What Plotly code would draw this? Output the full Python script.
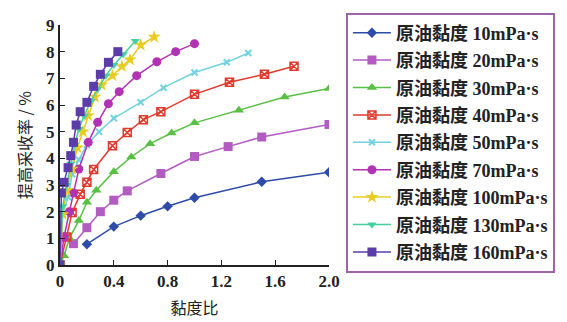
import plotly.graph_objects as go

names = ["原油黏度 10mPa·s", "原油黏度 20mPa·s", "原油黏度 30mPa·s", "原油黏度 40mPa·s",
         "原油黏度 50mPa·s", "原油黏度 70mPa·s", "原油黏度 100mPa·s", "原油黏度 130mPa·s",
         "原油黏度 160mPa·s"]

x10 = [0.2, 0.4, 0.6, 0.8, 1.0, 1.5, 2.0]
y10 = [0.78, 1.44, 1.85, 2.2, 2.52, 3.12, 3.48]
x20 = [0.1, 0.2, 0.3, 0.4, 0.5, 0.75, 1.0, 1.25, 1.5, 2.0]
y20 = [0.8, 1.4, 2.0, 2.43, 2.78, 3.43, 4.07, 4.44, 4.8, 5.27]
x30 = [0, 0.03, 0.07, 0.14, 0.2, 0.27, 0.4, 0.53, 0.67, 0.83, 1.0, 1.33, 1.67, 2.0]
y30 = [0, 0.35, 1.0, 1.67, 2.35, 2.8, 3.5, 4.05, 4.55, 4.95, 5.33, 5.8, 6.3, 6.62]
x40 = [0, 0.05, 0.09, 0.15, 0.2, 0.25, 0.39, 0.5, 0.62, 0.75, 1.0, 1.26, 1.52, 1.74]
y40 = [0, 1.05, 1.97, 2.65, 3.1, 3.58, 4.47, 4.97, 5.45, 5.75, 6.4, 6.85, 7.15, 7.45]
x50 = [0, 0.02, 0.06, 0.09, 0.14, 0.2, 0.29, 0.4, 0.6, 0.77, 1.0, 1.24, 1.4]
y50 = [0, 1.9, 2.55, 3.4, 3.95, 4.5, 5.0, 5.5, 6.1, 6.65, 7.22, 7.6, 7.95]
x70 = [0, 0.03, 0.07, 0.1, 0.14, 0.21, 0.28, 0.36, 0.44, 0.57, 0.72, 0.86, 1.0]
y70 = [0, 1.05, 2.0, 2.7, 3.6, 4.6, 5.35, 6.05, 6.5, 7.1, 7.62, 8.0, 8.3]
x100 = [0, 0.02, 0.05, 0.09, 0.13, 0.17, 0.21, 0.26, 0.31, 0.39, 0.46, 0.52, 0.6, 0.7]
y100 = [0, 1.9, 2.8, 3.6, 4.4, 5.0, 5.6, 6.3, 6.75, 7.1, 7.45, 7.7, 8.25, 8.55]
x130 = [0, 0.02, 0.05, 0.08, 0.11, 0.14, 0.18, 0.23, 0.28, 0.34, 0.4, 0.47, 0.56]
y130 = [0, 2.2, 3.0, 3.8, 4.5, 5.1, 5.6, 6.15, 6.6, 7.1, 7.5, 7.9, 8.4]
x160 = [0, 0.01, 0.03, 0.06, 0.08, 0.1, 0.12, 0.15, 0.2, 0.25, 0.3, 0.36, 0.43]
y160 = [0, 2.7, 3.1, 3.65, 4.1, 4.6, 5.25, 5.75, 6.1, 6.7, 7.15, 7.6, 8.0]

xs = [x10, x20, x30, x40, x50, x70, x100, x130, x160]
ys = [y10, y20, y30, y40, y50, y70, y100, y130, y160]
colors = ["#2d4ba8", "#b25cc2", "#58c043", "#e03a2c", "#72d2de", "#b232b4", "#e8cc22", "#46d09e", "#5b3ca8"]
symbols = ["diamond", "square", "triangle-up", "square-x-open", "x-thin-open", "circle", "star", "triangle-down", "square"]
sizes = [8, 9, 9, 8, 6, 9, 10, 8, 9]

fig = go.Figure()
for i in range(9):
    mk = dict(symbol=symbols[i], size=sizes[i], color=colors[i])
    if symbols[i] == "square-x-open":
        mk["line"] = dict(color=colors[i], width=1.5)
    if symbols[i] == "x-thin-open":
        mk["line"] = dict(color=colors[i], width=2)
    fig.add_trace(go.Scatter(
        x=xs[i], y=ys[i], name=names[i], mode="lines+markers",
        line=dict(color=colors[i], width=1.5), marker=mk,
        legendgroup=f"g{i}"))

font_num = dict(family="Liberation Serif", size=17, color="#222", weight="bold")
fig.update_layout(
    width=567, height=322,
    margin=dict(l=60, r=237, t=22, b=57),
    plot_bgcolor="white", paper_bgcolor="white",
    showlegend=True,
    legend=dict(x=1.063, y=1.052, xanchor="left", yanchor="top",
                bordercolor="#a062a8", borderwidth=2, maxheight=1.0,
                font=dict(family="Liberation Serif, Noto Sans CJK SC", size=18, color="#222", weight="bold"),
                tracegroupgap=1, itemwidth=38),
    xaxis=dict(range=[0, 2.0], tickvals=[0, 0.4, 0.8, 1.2, 1.6, 2.0],
               ticktext=["0", "0.4", "0.8", "1.2", "1.6", "2.0"], automargin=False,
               ticks="inside", ticklen=5, tickcolor="#222", showline=True, linecolor="#222", linewidth=2,
               showgrid=False, zeroline=False, tickfont=font_num,
               title=dict(text="黏度比", font=dict(family="Noto Sans CJK SC", size=16, color="#222"), standoff=12)),
    yaxis=dict(range=[0, 9], dtick=1, ticks="inside", ticklen=5, tickcolor="#222", automargin=False,
               showline=True, linecolor="#222", linewidth=2, showgrid=False, zeroline=False,
               tickfont=font_num,
               title=dict(text="提高采收率 / %", font=dict(family="Noto Sans CJK SC", size=16, color="#222"), standoff=10)),
)
fig.write_html("out.html", config={"displayModeBar": False},
               post_script="document.body.style.margin='0';document.body.style.padding='0';")
